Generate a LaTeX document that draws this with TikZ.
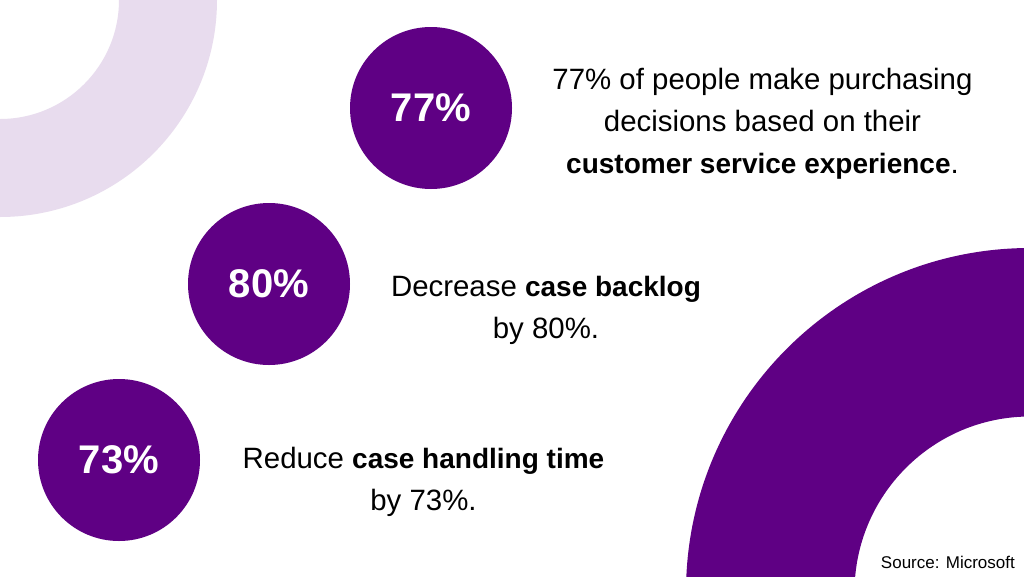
\documentclass[tikz,border=0pt]{standalone}
\usepackage{fontspec}
\setmainfont{Liberation Sans}
\definecolor{darkplum}{HTML}{5F0084}
\definecolor{paleplum}{HTML}{E8DCEE}
\newcommand{\keyphrase}[1]{{\fontsize{28}{42}\selectfont\bfseries #1}}
\begin{document}
\begin{tikzpicture}[
x=1pt,y=-1pt,
badge/.style={circle,fill=darkplum,text=white,minimum size=162pt,inner sep=0pt,font=\fontsize{40}{40}\selectfont\bfseries},
fact/.style={align=center,text=black,inner sep=0pt,font=\fontsize{29.4}{42}\selectfont},
ring/.style={even odd rule},
]
\useasboundingbox (0,0) rectangle (1024,576);
\fill[white] (0,0) rectangle (1024,576);
\begin{scope}
\clip (0,0) rectangle (1024,576);
\path[ring,fill=paleplum] (0,0) circle[radius=217] (0,0) circle[radius=119];
\path[ring,fill=darkplum] (1030,592) circle[radius=344] (1030,592) circle[radius=175.5];
\end{scope}
\node[badge] (top) at (431,108) {77\%};
\node[badge] (mid) at (269,284) {80\%};
\node[badge] (low) at (119,460) {73\%};
\node[fact] (toptext) at (762.5,124) {77\% of people make purchasing\\decisions based on their\\\keyphrase{customer service experience}.};
\node[fact] (midtext) at (546,310) {Decrease \keyphrase{case backlog}\\by 80\%.};
\node[fact] (lowtext) at (423.5,482) {Reduce \keyphrase{case handling time}\\by 73\%.};
\node[anchor=east,inner sep=0pt,font=\fontsize{17}{20}\selectfont] (source) at (1015,562) {Source: Microsoft};
\end{tikzpicture}
\end{document}
